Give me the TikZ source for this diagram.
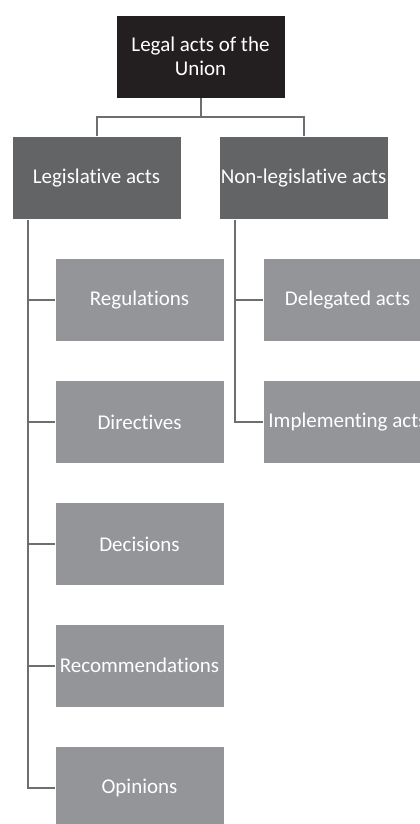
\documentclass[tikz,border=0pt]{standalone}
\usepackage{fontspec}
\setmainfont[Ligatures={NoCommon}]{Carlito}
\usetikzlibrary{calc}
\definecolor{topc}{HTML}{231F20}
\definecolor{midc}{HTML}{636466}
\definecolor{lowc}{HTML}{939598}
\definecolor{linec}{HTML}{6D6E71}
\tikzset{
  box/.style={rectangle, draw=white, line width=0.8pt, text=white, align=center,
    minimum width=169pt, minimum height=83pt, inner sep=0pt,
    font=\fontsize{21}{24.5}\selectfont},
  topbox/.style={box, fill=topc},
  midbox/.style={box, fill=midc},
  lowbox/.style={box, fill=lowc},
  conn/.style={draw=linec, line width=2pt}
}
\begin{document}
\begin{tikzpicture}[x=1pt,y=-1pt]
\useasboundingbox (0,0) rectangle (420,824);
\clip (0,0) rectangle (420,824);
\node[topbox] (top) at (200.5,56.5) {Legal acts of the\\Union};
\node[midbox] (leg) at (96.5,178) {Legislative acts};
\node[midbox] (non) at (303.5,178) {Non-legislative acts};
\node[lowbox] (reg) at (139.5,300) {Regulations};
\node[lowbox] (dir) at (139.5,422) {Directives};
\node[lowbox] (dec) at (139.5,544) {Decisions};
\node[lowbox] (rec) at (139.5,665.5) {Recommendations};
\node[lowbox] (opi) at (139.5,787.5) {Opinions};
\node[lowbox] (del) at (347.5,300) {Delegated acts};
\node[lowbox] (imp) at (347.5,422) {Implementing acts};
\coordinate (lbar) at ($(leg.south west)+(16,0)$);
\coordinate (rbar) at ($(non.south west)+(16,0)$);
\draw[conn] (top.south) -- ++(0,19) -| (leg.north);
\draw[conn] (top.south) -- ++(0,19) -| (non.north);
\foreach \c in {reg,dir,dec,rec,opi} \draw[conn] (lbar) |- (\c.west);
\foreach \c in {del,imp} \draw[conn] (rbar) |- (\c.west);
\end{tikzpicture}
\end{document}
